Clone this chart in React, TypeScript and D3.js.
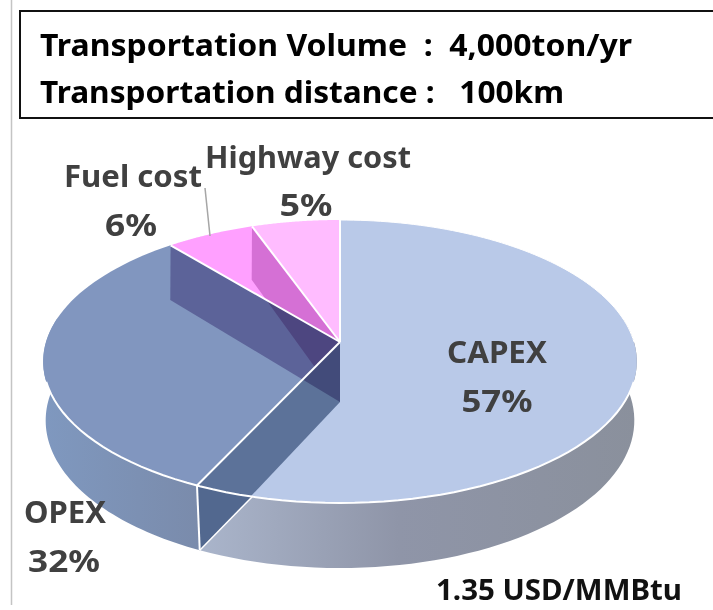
import React from "react";
import * as d3 from "d3";

const categories = ["CAPEX", "OPEX", "Fuel cost", "Highway cost"];
const shares = [57, 32, 5.51, 5.49];
const faceColors = ["#b9c9e8", "#8196bf", "#ffa0ff", "#ffbcff"];
const infoLines = ["Transportation Volume  :  4,000ton/yr", "Transportation distance :   100km"];
const footNote = "1.35 USD/MMBtu";

const W = 713, H = 610;
type P = [number, number];
const top = (A: number): P => {
  const u = Math.sin(A), v = -Math.cos(A), w = 1 - 0.1378 * v;
  return [340 + (294 * u) / w, (91.7 * v + 342) / w];
};
const bot = (A: number): P => {
  const u = Math.sin(A), v = -Math.cos(A), w = 1 - 0.1254 * v;
  return [340 + (292 * u) / w, (94.8 * v + 402) / w];
};
const HUB: P = [340, 342];
const BHUB: P = [340, 402];
const line = d3.line<P>();
const samples = (a: number, b: number, f: (A: number) => P): P[] =>
  d3.range(0, 61).map((i) => f(a + ((b - a) * i) / 60));
const closed = (pts: P[]) => line(pts) + "Z";

const slices = d3.pie<number>().sort(null)(shares);
const deg = Math.PI / 180;

export default function App() {
  const a57 = slices[0].endAngle, a89 = slices[1].endAngle, a945 = slices[2].endAngle;
  const frontStart = 195 * deg;
  const font = "'Noto Sans', 'Open Sans', sans-serif";
  const label = (t: string, x: number, y: number, size = 31, fill = "#404040", tl?: number) => (
    <text x={x} y={y} textAnchor="middle" fontFamily={font} fontWeight={700} fontSize={size} fill={fill}
      {...(tl ? { textLength: tl, lengthAdjust: "spacingAndGlyphs" } : {})}>{t}</text>
  );
  return (
    <svg width={W} height={H} viewBox={`0 0 ${W} ${H}`}
      style={{ position: "absolute", left: 0, top: 0, background: "#fff" }}>
      <defs>
        <linearGradient id="capSide" gradientUnits="userSpaceOnUse" x1={200} x2={640} y1={0} y2={0}>
          <stop offset="0" stopColor="#aab5cb" />
          <stop offset="0.45" stopColor="#8f95a8" />
          <stop offset="1" stopColor="#8a909c" />
        </linearGradient>
        <linearGradient id="opSide" gradientUnits="userSpaceOnUse" x1={45} x2={200} y1={0} y2={0}>
          <stop offset="0" stopColor="#7f98bf" />
          <stop offset="1" stopColor="#7a8bab" />
        </linearGradient>
        <clipPath id="backFaces">
          <path d={closed([HUB, ...samples(a57, a945, top)])} />
        </clipPath>
      </defs>
      <line x1={11.5} x2={11.5} y1={0} y2={605} stroke="#c4c4c4" strokeWidth={1.5} />
      <rect x={20} y={11} width={700} height={107} fill="#fff" stroke="#111" strokeWidth={2} />
      <text x={40} y={56} fontFamily={font} fontWeight={700} fontSize={31} fill="#000" textLength={592}
        lengthAdjust="spacingAndGlyphs" xmlSpace="preserve">{infoLines[0]}</text>
      <text x={40} y={103} fontFamily={font} fontWeight={700} fontSize={31} fill="#000" textLength={524}
        lengthAdjust="spacingAndGlyphs" xmlSpace="preserve">{infoLines[1]}</text>

      {/* side walls */}
      <path d={closed([...samples(80 * deg, a57, top), ...samples(a57, 80 * deg, bot)])} fill="url(#capSide)" />
      <path d={closed([...samples(a57, 280 * deg, top), ...samples(280 * deg, a57, bot)])} fill="url(#opSide)" />

      {/* top faces */}
      {slices.map((s, i) => (
        <path key={categories[i]} d={closed([HUB, ...samples(s.startAngle, s.endAngle, top)])} fill={faceColors[i]} />
      ))}

      {/* translucent interior walls */}
      <path d={closed([HUB, top(a89), bot(a89), BHUB])} fill="rgb(182,168,204)" style={{ mixBlendMode: "multiply" }} />
      <path d={closed([HUB, top(a945), bot(a945), BHUB])} fill="rgb(213,179,213)" clipPath="url(#backFaces)" style={{ mixBlendMode: "multiply" }} />
      <path d={closed([HUB, top(a57), bot(a57), BHUB])} fill="rgb(127,145,168)" style={{ mixBlendMode: "multiply" }} />
      <path d={closed([...samples(frontStart, a57, top), bot(a57)])} fill="#52688f" />

      {/* white edges */}
      <path d={line(samples(106 * deg, 254 * deg, top)) ?? ""} fill="none" stroke="#fff" strokeWidth={2} />
      <path d={line(samples(0, 90 * deg, top)) ?? ""} fill="none" stroke="#fff" strokeWidth={1} />
      {[a57, a89, a945].map((a) => (
        <path key={a} d={line([HUB, top(a)]) ?? ""} stroke="#fff" strokeWidth={2} fill="none" />
      ))}
      <path d={line([[340, 220], HUB]) ?? ""} stroke="#fff" strokeWidth={2} fill="none" />
      <path d={line([top(a57), bot(a57)]) ?? ""} stroke="#fff" strokeWidth={2} fill="none" />
      <path d={line([top(frontStart), bot(a57)]) ?? ""} stroke="#fff" strokeWidth={1.5} fill="none" />

      {/* leader */}
      <line x1={205} y1={188} x2={210} y2={236} stroke="#a6a6a6" strokeWidth={1.5} />

      {label(categories[0], 497, 363, 31, "#404040", 100)}
      {label(`${Math.round(shares[0])}%`, 497, 412, 31, "#404040", 71)}
      {label(categories[1], 65, 523, 31, "#404040", 82)}
      {label(`${Math.round(shares[1])}%`, 64, 572, 31, "#404040", 72)}
      {label(categories[2], 133, 187, 31, "#404040", 138)}
      {label(`${Math.round(shares[2])}%`, 131, 236, 31, "#404040", 52)}
      {label(categories[3], 308, 168, 31, "#404040", 206)}
      {label(`${Math.round(shares[3])}%`, 306, 216, 31, "#404040", 53)}
      {label(footNote, 559, 600, 28, "#111", 246)}
    </svg>
  );
}
